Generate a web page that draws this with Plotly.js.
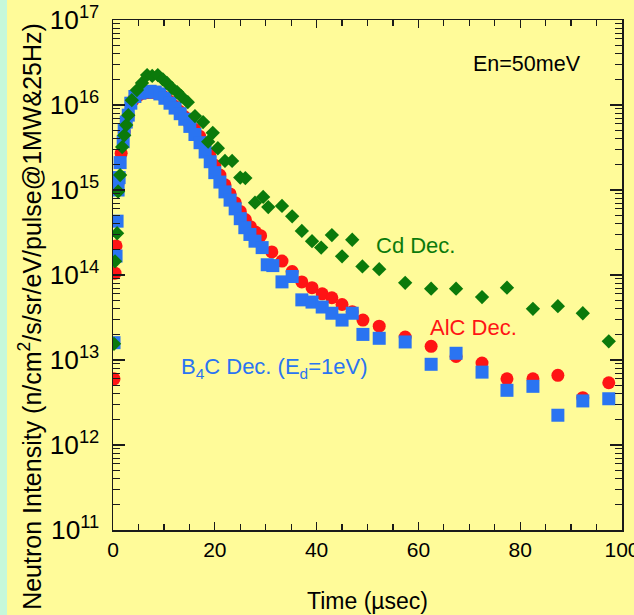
<!DOCTYPE html>
<html>
<head>
<meta charset="utf-8">
<script src="https://cdn.plot.ly/plotly-3.0.1.min.js"></script>
<style>
html,body{margin:0;padding:0;background:#c6f8da;width:634px;height:615px;overflow:hidden;}
#plot{position:absolute;left:7px;top:0;width:627px;height:615px;}
</style>
</head>
<body>
<div id="plot"></div>
<script>
// B4C decoupler (blue squares)
var b4cTime = [0.2,0.6,0.8,1.0,1.2,1.4,2.0,2.2,2.6,3.0,3.5,4.3,5.3,6.3,7.3,8.3,9.2,10.2,11.2,12.2,13.2,14.1,15.1,16.1,17.1,18.1,19.1,20.0,21.0,22.0,23.0,24.0,25.0,25.9,26.9,27.9,29.3,30.3,31.4,33.2,35.2,37.1,39.1,41.1,43.0,45.0,47.0,49.1,52.3,57.4,62.5,67.4,72.5,77.4,82.5,87.4,92.3,97.4];
var b4cValue = [1.6e13,1.67e14,4.3e14,1.0e15,1.4e15,2.1e15,3.7e15,5.1e15,6.3e15,7.6e15,1.05e16,1.26e16,1.38e16,1.42e16,1.45e16,1.42e16,1.35e16,1.2e16,1.05e16,9.2e15,7.9e15,6.8e15,5.6e15,4.5e15,3.6e15,2.8e15,2.15e15,1.6e15,1.24e15,9.5e14,7.6e14,6.0e14,4.6e14,3.6e14,3.0e14,2.5e14,2.1e14,1.32e14,1.29e14,8.3e13,9.6e13,5.1e13,4.8e13,4.2e13,3.55e13,2.95e13,3.55e13,2.0e13,1.8e13,1.63e13,8.9e12,1.2e13,7.2e12,4.4e12,4.9e12,2.24e12,3.3e12,3.5e12];

// AlC decoupler (red circles)
var alcTime = [0.2,0.4,0.6,1.0,1.6,2.2,3.0,4.0,5.0,6.0,7.0,8.0,9.0,10.0,11.0,12.0,13.0,14.0,15.0,16.0,17.0,18.0,19.0,20.0,21.0,22.0,23.0,24.0,25.0,26.0,27.0,28.0,29.0,31.2,33.2,35.2,37.1,39.1,41.1,43.0,45.0,47.0,49.1,52.3,57.4,62.5,67.4,72.5,77.4,82.5,87.4,92.3,97.4];
var alcValue = [6.0e12,1.05e14,2.2e14,1.2e15,2.7e15,4.8e15,7.5e15,1.15e16,1.3e16,1.38e16,1.4e16,1.4e16,1.36e16,1.25e16,1.12e16,9.8e15,8.5e15,7.3e15,6.1e15,5.2e15,4.3e15,3.4e15,2.6e15,1.95e15,1.5e15,1.15e15,9.0e14,7.1e14,5.6e14,4.5e14,3.7e14,3.2e14,2.9e14,1.87e14,1.46e14,1.1e14,8.3e13,7.1e13,6.0e13,5.4e13,4.5e13,3.7e13,2.95e13,2.5e13,1.86e13,1.45e13,1.1e13,9.2e12,6.0e12,6.0e12,6.6e12,3.6e12,5.4e12];

// Cd decoupler (green diamonds)
var cdTime = [0.2,0.4,0.8,1.0,1.4,1.8,2.2,2.6,3.0,3.7,4.7,5.7,6.7,7.7,8.8,9.8,10.6,11.6,12.6,13.4,14.7,16.1,17.7,18.7,19.6,20.6,22.0,23.4,25.0,26.0,27.9,29.5,30.5,33.2,35.2,37.1,39.1,40.9,43.0,45.0,47.0,49.0,52.3,57.4,62.5,67.4,72.5,77.4,82.5,87.4,92.3,97.4];
var cdValue = [1.55e13,1.45e14,3.1e14,9.6e14,1.5e15,3.2e15,4.4e15,5.8e15,7.6e15,1.14e16,1.5e16,1.82e16,2.25e16,2.2e16,2.25e16,2.0e16,1.82e16,1.58e16,1.42e16,1.27e16,1.08e16,7.4e15,6.3e15,3.7e15,4.7e15,3.1e15,2.2e15,2.2e15,1.4e15,1.38e15,7.1e14,8.3e14,6.3e14,6.5e14,4.9e14,3.3e14,2.5e14,2.1e14,2.95e14,1.66e14,2.6e14,1.26e14,1.17e14,8.1e13,6.9e13,6.9e13,5.5e13,7.1e13,4.0e13,4.3e13,3.55e13,1.66e13];

var xTickVals = [0,20,40,60,80,100];
var yRange = [11,17];

var yellow = '#fffb99';
var green = '#0b7a0b';
var red = '#ff1414';
var blue = '#2a74f2';
var axisColor = '#1a1a1a';
var fontFam = 'Liberation Sans, Arial, sans-serif';

var traces = [
  {x: alcTime, y: alcValue, type: 'scatter', mode: 'markers', name: 'AlC Dec.',
   marker: {symbol: 'circle', size: 13, color: red}, hoverinfo: 'skip'},
  {x: b4cTime, y: b4cValue, type: 'scatter', mode: 'markers', name: 'B4C Dec.',
   marker: {symbol: 'square', size: 13, color: blue}, hoverinfo: 'skip'},
  {x: cdTime, y: cdValue, type: 'scatter', mode: 'markers', name: 'Cd Dec.',
   marker: {symbol: 'diamond', size: 11, color: green}, hoverinfo: 'skip'}
];

var layout = {
  width: 627, height: 615,
  margin: {l: 106, r: 12, t: 20, b: 85},
  paper_bgcolor: yellow,
  plot_bgcolor: yellow,
  showlegend: false,
  font: {family: fontFam, size: 21, color: '#000'},
  xaxis: {
    range: [0, 100],
    tickvals: xTickVals,
    ticks: 'inside', ticklen: 8, tickwidth: 1.2, tickcolor: axisColor,
    minor: {ticks: 'inside', dtick: 5, ticklen: 6, tickwidth: 1.2, tickcolor: axisColor, showgrid: false},
    showline: true, linecolor: axisColor, linewidth: 1.5, mirror: 'allticks',
    showgrid: false, zeroline: false,
    ticklabelstandoff: 0,
    ticklabeloverflow: 'allow',
    tickfont: {size: 21},
    title: {text: 'Time (\u00b5sec)', font: {size: 23}, standoff: 33}
  },
  yaxis: {
    type: 'log',
    range: yRange,
    dtick: 1,
    exponentformat: 'power',
    ticks: 'inside', ticklen: 12, tickwidth: 1.2, tickcolor: axisColor,
    minor: {ticks: 'inside', dtick: 'D1', ticklen: 7, tickwidth: 1.2, tickcolor: axisColor, showgrid: false},
    showline: true, linecolor: axisColor, linewidth: 1.5, mirror: 'allticks',
    showgrid: false, zeroline: false,
    ticklabelstandoff: 8,
    tickfont: {size: 21}
  },
  annotations: [
    {xref: 'paper', yref: 'paper', x: -0.163, y: 0.418, xanchor: 'center', yanchor: 'middle', textangle: -90,
     text: 'Neutron Intensity (n/cm<sup>2</sup>/s/sr/eV/pulse@1MW&25Hz)', showarrow: false,
     font: {size: 25, color: '#000'}},
    {xref: 'paper', yref: 'paper', x: 0.923, y: 0.914, xanchor: 'right', yanchor: 'middle',
     text: 'En=50meV', showarrow: false, font: {size: 21.5, color: '#000'}},
    {xref: 'paper', yref: 'paper', x: 0.512, y: 0.557, xanchor: 'left', yanchor: 'middle',
     text: 'Cd Dec.', showarrow: false, font: {size: 22, color: green}},
    {xref: 'paper', yref: 'paper', x: 0.618, y: 0.398, xanchor: 'left', yanchor: 'middle',
     text: 'AlC Dec.', showarrow: false, font: {size: 22, color: red}},
    {xref: 'paper', yref: 'paper', x: 0.129, y: 0.318, xanchor: 'left', yanchor: 'middle',
     text: 'B<sub>4</sub>C Dec. (E<sub>d</sub>=1eV)', showarrow: false, font: {size: 22, color: blue}}
  ]
};

Plotly.newPlot('plot', traces, layout, {staticPlot: true, displayModeBar: false});
</script>
</body>
</html>
